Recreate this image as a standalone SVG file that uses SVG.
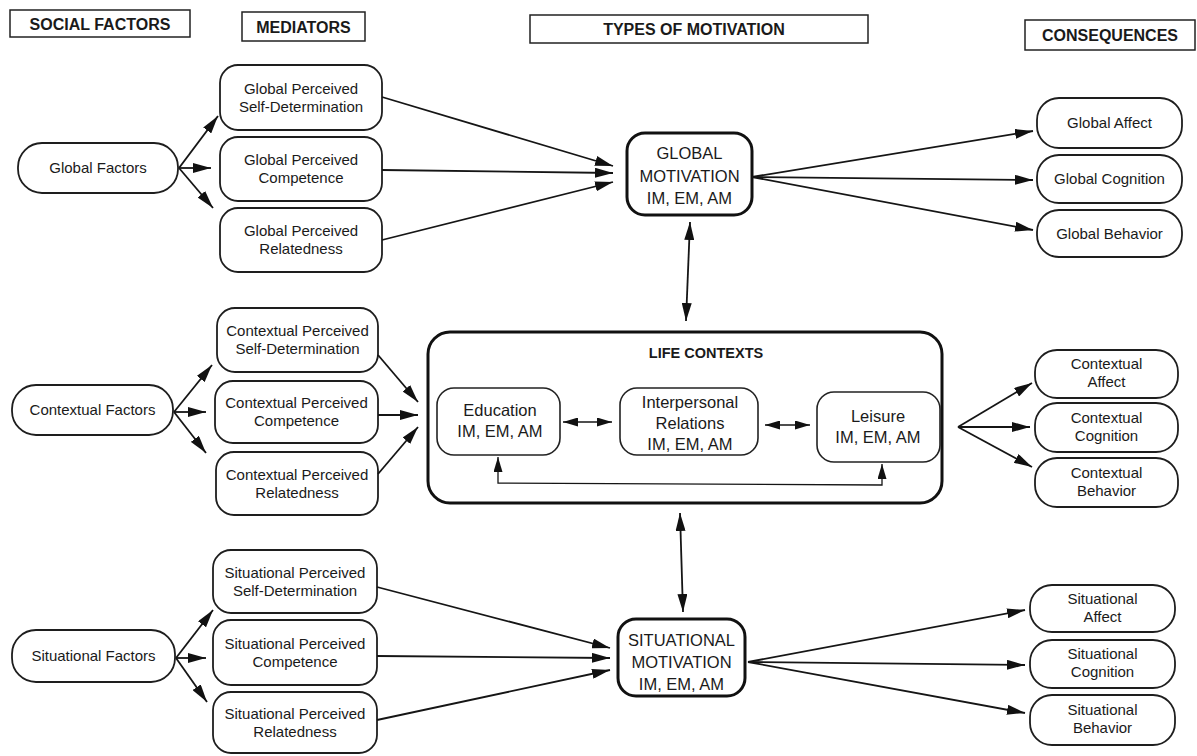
<svg xmlns="http://www.w3.org/2000/svg" width="1197" height="756" viewBox="0 0 1197 756">
  <style>
    text { font-family: "Liberation Sans", Arial, sans-serif; fill: #1a1a1a; text-anchor: middle; }
    .hdr rect { fill: #fff; stroke: #222; stroke-width: 1.5; }
    .hdr text { font-size: 16px; font-weight: bold; }
    .box rect { fill: #fff; stroke: #1e1e1e; stroke-width: 1.8; }
    .box text { font-size: 15px; }
    .mot rect { fill: #fff; stroke: #111; stroke-width: 3; }
    .mot text { font-size: 16.5px; }
    .ctx rect { fill: #fff; stroke: #222; stroke-width: 1.6; }
    .ctx text { font-size: 16.5px; }
    .ttl { font-size: 14.5px; font-weight: bold; }
    .conn line, .conn path { stroke: #151515; stroke-width: 1.8; fill: none; }
    .conn .thin { stroke-width: 1.3; }
  </style>
  <defs>
    <marker id="ah" markerUnits="userSpaceOnUse" markerWidth="18" markerHeight="10" refX="18" refY="5" orient="auto-start-reverse">
      <path d="M0,0 L18,5 L0,10 Z" fill="#111"/>
    </marker>
    <marker id="ahs" markerUnits="userSpaceOnUse" markerWidth="15" markerHeight="9" refX="15" refY="4.5" orient="auto-start-reverse">
      <path d="M0,0 L15,4.5 L0,9 Z" fill="#111"/>
    </marker>
  </defs>

  <!-- column headers -->
  <g id="hdr-social" class="hdr"><rect x="10" y="10" width="180" height="27"/><text x="100" y="29.5">SOCIAL FACTORS</text></g>
  <g id="hdr-mediators" class="hdr"><rect x="242" y="12" width="123" height="29"/><text x="303.5" y="32.5">MEDIATORS</text></g>
  <g id="hdr-types" class="hdr"><rect x="530" y="15" width="338" height="28"/><text x="694" y="35">TYPES OF MOTIVATION</text></g>
  <g id="hdr-consequences" class="hdr"><rect x="1025" y="20" width="170" height="30"/><text x="1110" y="41">CONSEQUENCES</text></g>

  <!-- social factors -->
  <g id="global-factors" class="box"><rect x="18" y="143" width="160" height="50" rx="24"/><text x="98" y="173">Global Factors</text></g>
  <g id="contextual-factors" class="box"><rect x="12" y="385" width="161" height="50" rx="24"/><text x="92.5" y="415">Contextual Factors</text></g>
  <g id="situational-factors" class="box"><rect x="12" y="630" width="163" height="52" rx="24"/><text x="93.5" y="661">Situational Factors</text></g>

  <!-- global mediators -->
  <g id="global-sd" class="box"><rect x="220" y="65" width="162" height="65" rx="18"/><text x="301" y="93.5">Global Perceived</text><text x="301" y="111.5">Self-Determination</text></g>
  <g id="global-comp" class="box"><rect x="220" y="137" width="162" height="64" rx="18"/><text x="301" y="165">Global Perceived</text><text x="301" y="183">Competence</text></g>
  <g id="global-rel" class="box"><rect x="220" y="208" width="162" height="64" rx="18"/><text x="301" y="236">Global Perceived</text><text x="301" y="254">Relatedness</text></g>

  <!-- contextual mediators -->
  <g id="ctx-sd" class="box"><rect x="217" y="308" width="161" height="64" rx="18"/><text x="297.5" y="336">Contextual Perceived</text><text x="297.5" y="354">Self-Determination</text></g>
  <g id="ctx-comp" class="box"><rect x="215" y="381" width="163" height="62" rx="18"/><text x="296.5" y="408">Contextual Perceived</text><text x="296.5" y="426">Competence</text></g>
  <g id="ctx-rel" class="box"><rect x="216" y="452" width="162" height="63" rx="18"/><text x="297" y="479.5">Contextual Perceived</text><text x="297" y="497.5">Relatedness</text></g>

  <!-- situational mediators -->
  <g id="sit-sd" class="box"><rect x="213" y="550" width="164" height="63" rx="18"/><text x="295" y="577.5">Situational Perceived</text><text x="295" y="595.5">Self-Determination</text></g>
  <g id="sit-comp" class="box"><rect x="213" y="620" width="164" height="65" rx="18"/><text x="295" y="648.5">Situational Perceived</text><text x="295" y="666.5">Competence</text></g>
  <g id="sit-rel" class="box"><rect x="213" y="692" width="164" height="61" rx="18"/><text x="295" y="718.5">Situational Perceived</text><text x="295" y="736.5">Relatedness</text></g>

  <!-- motivation levels -->
  <g id="global-motivation" class="mot"><rect x="627" y="133" width="125" height="82" rx="18"/><text x="689.5" y="159">GLOBAL</text><text x="689.5" y="181.5">MOTIVATION</text><text x="689.5" y="203.5">IM, EM, AM</text></g>

  <g id="life-contexts">
    <rect x="428" y="332" width="514" height="171" rx="22" fill="#fff" stroke="#111" stroke-width="3"/>
    <text class="ttl" x="706" y="358">LIFE CONTEXTS</text>
  </g>
  <g id="education" class="ctx"><rect x="437" y="388" width="123" height="67" rx="17"/><text x="500" y="416">Education</text><text x="500" y="437">IM, EM, AM</text></g>
  <g id="interpersonal" class="ctx"><rect x="620" y="388" width="138" height="67" rx="17"/><text x="690" y="408">Interpersonal</text><text x="690" y="429">Relations</text><text x="690" y="450">IM, EM, AM</text></g>
  <g id="leisure" class="ctx"><rect x="817" y="392" width="123" height="70" rx="17"/><text x="878" y="422">Leisure</text><text x="878" y="443">IM, EM, AM</text></g>

  <g id="situational-motivation" class="mot"><rect x="618" y="619" width="127" height="77" rx="18"/><text x="681.5" y="646">SITUATIONAL</text><text x="681.5" y="668">MOTIVATION</text><text x="681.5" y="689.5">IM, EM, AM</text></g>

  <!-- consequences -->
  <g id="global-affect" class="box"><rect x="1037" y="98" width="145" height="50" rx="22"/><text x="1109.5" y="128">Global Affect</text></g>
  <g id="global-cognition" class="box"><rect x="1037" y="155" width="145" height="48" rx="22"/><text x="1109.5" y="184">Global Cognition</text></g>
  <g id="global-behavior" class="box"><rect x="1037" y="210" width="145" height="47" rx="22"/><text x="1109.5" y="238.5">Global Behavior</text></g>

  <g id="ctx-affect" class="box"><rect x="1035" y="350" width="143" height="48" rx="22"/><text x="1106.5" y="369">Contextual</text><text x="1106.5" y="387">Affect</text></g>
  <g id="ctx-cognition" class="box"><rect x="1035" y="403" width="143" height="49" rx="22"/><text x="1106.5" y="422.5">Contextual</text><text x="1106.5" y="440.5">Cognition</text></g>
  <g id="ctx-behavior" class="box"><rect x="1035" y="458" width="143" height="49" rx="22"/><text x="1106.5" y="477.5">Contextual</text><text x="1106.5" y="495.5">Behavior</text></g>

  <g id="sit-affect" class="box"><rect x="1030" y="585" width="145" height="47" rx="22"/><text x="1102.5" y="603.5">Situational</text><text x="1102.5" y="621.5">Affect</text></g>
  <g id="sit-cognition" class="box"><rect x="1030" y="640" width="145" height="48" rx="22"/><text x="1102.5" y="659">Situational</text><text x="1102.5" y="677">Cognition</text></g>
  <g id="sit-behavior" class="box"><rect x="1030" y="695" width="145" height="50" rx="22"/><text x="1102.5" y="715">Situational</text><text x="1102.5" y="733">Behavior</text></g>

  <!-- connectors -->
  <g id="connectors" class="conn">
    <!-- social factors to mediators -->
    <line x1="179" y1="168" x2="218" y2="116" marker-end="url(#ah)"/>
    <line x1="179" y1="168" x2="211" y2="168" marker-end="url(#ah)"/>
    <line x1="179" y1="168" x2="213" y2="208" marker-end="url(#ah)"/>

    <line x1="174" y1="412" x2="212" y2="365" marker-end="url(#ah)"/>
    <line x1="174" y1="412" x2="206" y2="412" marker-end="url(#ah)"/>
    <line x1="174" y1="412" x2="206" y2="453" marker-end="url(#ah)"/>

    <line x1="176" y1="658" x2="213" y2="610" marker-end="url(#ah)"/>
    <line x1="176" y1="658" x2="206" y2="658" marker-end="url(#ah)"/>
    <line x1="176" y1="658" x2="207" y2="702" marker-end="url(#ah)"/>

    <!-- mediators to motivation -->
    <line x1="382" y1="97" x2="613" y2="166" marker-end="url(#ah)"/>
    <line x1="382" y1="170" x2="613" y2="173" marker-end="url(#ah)"/>
    <line x1="382" y1="240" x2="613" y2="182" marker-end="url(#ah)"/>

    <line x1="378" y1="355" x2="418" y2="402" marker-end="url(#ah)"/>
    <line x1="378" y1="415" x2="418" y2="415" marker-end="url(#ah)"/>
    <line x1="378" y1="474" x2="418" y2="427" marker-end="url(#ah)"/>

    <line x1="377" y1="587" x2="610" y2="648" marker-end="url(#ah)"/>
    <line x1="377" y1="656" x2="610" y2="658" marker-end="url(#ah)"/>
    <line x1="377" y1="720" x2="610" y2="670" marker-end="url(#ah)"/>

    <!-- motivation to consequences -->
    <line x1="752" y1="177" x2="1033" y2="131" marker-end="url(#ah)"/>
    <line x1="752" y1="177" x2="1033" y2="180" marker-end="url(#ah)"/>
    <line x1="752" y1="177" x2="1033" y2="230" marker-end="url(#ah)"/>

    <line x1="958" y1="427" x2="1032" y2="383" marker-end="url(#ah)"/>
    <line x1="958" y1="427" x2="1030" y2="427" marker-end="url(#ah)"/>
    <line x1="958" y1="427" x2="1032" y2="467" marker-end="url(#ah)"/>

    <line x1="748" y1="662" x2="1025" y2="610" marker-end="url(#ah)"/>
    <line x1="748" y1="662" x2="1025" y2="665" marker-end="url(#ah)"/>
    <line x1="748" y1="662" x2="1025" y2="713" marker-end="url(#ah)"/>

    <!-- levels linked through life contexts -->
    <line x1="690" y1="222" x2="686" y2="321" marker-start="url(#ah)" marker-end="url(#ah)"/>
    <line x1="680" y1="513" x2="683" y2="612" marker-start="url(#ah)" marker-end="url(#ah)"/>

    <!-- links between life contexts -->
    <line class="thin" x1="563" y1="422" x2="612" y2="422" marker-start="url(#ahs)" marker-end="url(#ahs)"/>
    <line class="thin" x1="765" y1="425" x2="810" y2="425" marker-start="url(#ahs)" marker-end="url(#ahs)"/>
    <path class="thin" d="M498,457 L498,483 L882,485 L882,464" marker-start="url(#ahs)" marker-end="url(#ahs)"/>
  </g>
</svg>
